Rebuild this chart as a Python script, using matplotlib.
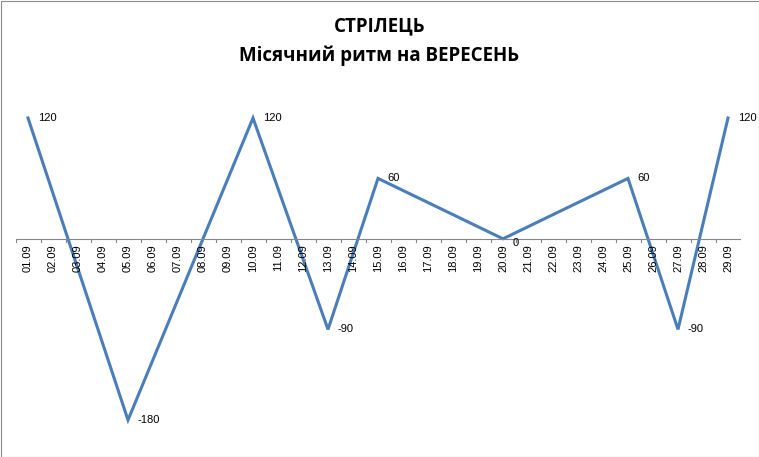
import matplotlib
matplotlib.use("Agg")
import matplotlib.pyplot as plt

days = [f"{d:02d}.09" for d in range(1, 30)]
key_days = ["01.09", "05.09", "10.09", "13.09", "15.09", "20.09", "25.09", "27.09", "29.09"]
key_values = [120, -180, 120, -90, 60, 0, 60, -90, 120]

W, H = 759, 457
fig = plt.figure(figsize=(W/100, H/100), dpi=100)
fig.patch.set_facecolor("white")
fig.add_artist(plt.Rectangle((0.5/W, 0.5/H), 1-1/W, 1-1/H, transform=fig.transFigure,
                             fill=False, edgecolor="#8c8c8c", linewidth=0.8))
left, right, top, bottom = 15.5, 740.5, 118, 420
ax = fig.add_axes([left/W, 1-bottom/H, (right-left)/W, (bottom-top)/H])
xs = [days.index(d) for d in key_days]
ax.plot(xs, key_values, color="#4a7ebb", linewidth=2.2, clip_on=False, solid_joinstyle="miter")
ax.set_xlim(-0.5, 28.5)
ax.set_ylim(-180, 120)
ax.axis("off")
ax.axhline(0, color="#868686", linewidth=0.8)
for i, d in enumerate(days):
    ax.plot([i-0.5, i-0.5], [0, -3], color="#868686", linewidth=0.8)
    ax.annotate(d, (i, 0), xytext=(0, -4), textcoords="offset points", rotation=90,
                ha="center", va="top", fontsize=8, family="Liberation Sans")
ax.plot([28.5, 28.5], [0, -3], color="#868686", linewidth=0.8)
for x, v in zip(xs, key_values):
    ax.annotate(str(v), (x, v), xytext=(7, -3 if v == 0 else 0), textcoords="offset points",
                ha="left", va="center", fontsize=8, family="Liberation Sans")
fig.text(0.5, 1-26/H, "СТРІЛЕЦЬ", ha="center", va="center", fontsize=13.5, fontweight="bold",
         family="Open Sans")
fig.text(0.5, 1-56/H, "Місячний ритм на ВЕРЕСЕНЬ", ha="center", va="center", fontsize=13.5,
         fontweight="bold", family="Open Sans")
fig.savefig("out.png", dpi=100)
